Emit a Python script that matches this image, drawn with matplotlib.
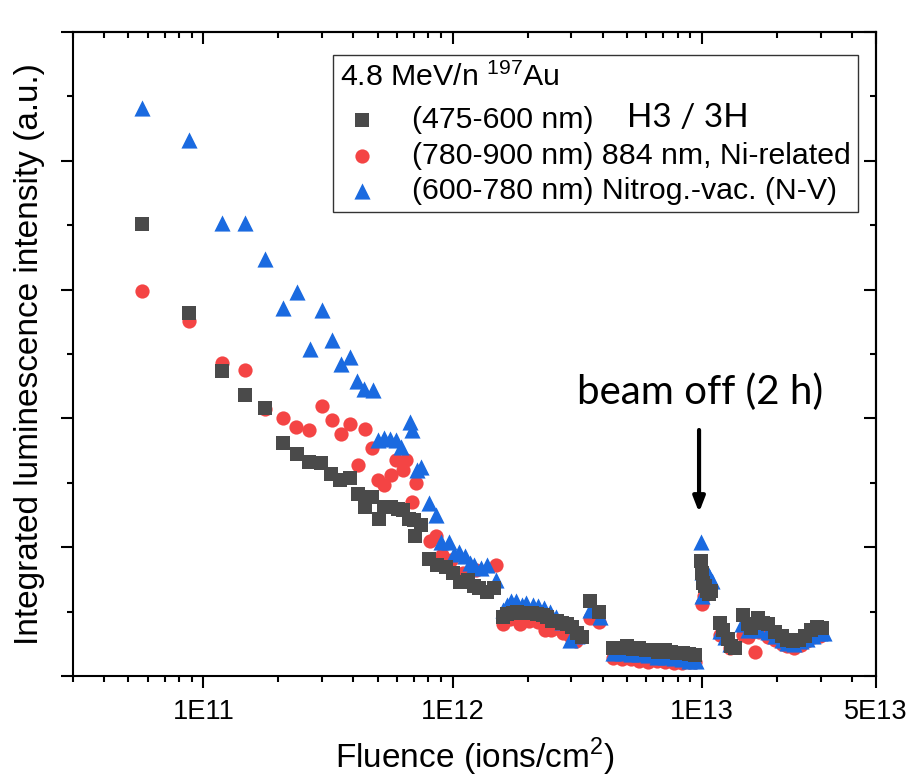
import matplotlib
matplotlib.use("Agg")
import matplotlib.pyplot as plt
from matplotlib.ticker import FixedLocator, NullFormatter

plt.rcParams['font.family'] = ['Liberation Sans', 'DejaVu Sans']
plt.rcParams['mathtext.fontset'] = 'custom'
plt.rcParams['mathtext.rm'] = 'Liberation Sans'

# ---------------- data ----------------
sq_x = [5.7e10, 8.8e10, 1.19e11, 1.47e11, 1.77e11, 2.08e11, 2.37e11, 2.66e11, 2.97e11, 3.25e11,
        3.55e11, 3.89e11, 4.16e11, 4.47e11, 4.75e11, 5.06e11, 5.33e11, 5.67e11, 6.03e11, 6.3e11,
        6.68e11, 7.02e11, 7.1e11, 7.45e11, 8.08e11, 8.7e11, 9.4e11, 1.0e12, 1.07e12, 1.15e12,
        1.22e12, 1.28e12, 1.38e12, 1.47e12,
        1.59e12, 1.66e12, 1.74e12, 1.82e12, 1.91e12, 2.0e12, 2.09e12, 2.19e12, 2.3e12, 2.4e12,
        2.51e12, 2.63e12, 2.75e12, 2.88e12, 3.02e12, 3.16e12, 3.3e12,
        3.55e12, 3.86e12,
        4.4e12, 4.7e12, 5.0e12, 5.3e12, 5.6e12, 5.95e12, 6.3e12, 6.7e12, 7.1e12, 7.5e12,
        7.95e12, 8.4e12, 8.9e12, 9.4e12,
        9.95e12, 1.0e13, 1.01e13, 1.03e13, 1.05e13, 1.07e13, 1.09e13,
        1.18e13, 1.22e13, 1.27e13, 1.31e13, 1.36e13, 1.47e13, 1.53e13, 1.58e13, 1.68e13, 1.76e13,
        1.85e13, 1.96e13, 2.09e13, 2.2e13, 2.33e13, 2.46e13, 2.6e13, 2.75e13, 2.9e13, 3.05e13]
sq_y = [3.51, 2.82, 2.37, 2.18, 2.08, 1.81, 1.72, 1.66, 1.65, 1.57,
        1.52, 1.535, 1.41, 1.31, 1.39, 1.22, 1.31, 1.31, 1.30, 1.29,
        1.22, 1.21, 1.09, 1.17, 0.91, 0.86, 0.85, 0.80, 0.73, 0.745,
        0.70, 0.68, 0.655, 0.68,
        0.46, 0.48, 0.49, 0.50, 0.49, 0.49, 0.49, 0.48, 0.47, 0.46,
        0.43, 0.43, 0.41, 0.40, 0.38, 0.33, 0.30,
        0.58, 0.50,
        0.22, 0.22, 0.23, 0.21, 0.22, 0.20, 0.20, 0.19, 0.20, 0.19,
        0.18, 0.18, 0.17, 0.16,
        0.89, 0.80, 0.72, 0.70, 0.66, 0.64, 0.66,
        0.41, 0.36, 0.29, 0.23, 0.22, 0.47, 0.40, 0.37, 0.45, 0.41,
        0.40, 0.34, 0.31, 0.28, 0.27, 0.28, 0.31, 0.36, 0.38, 0.37]

ci_x = [5.7e10, 8.8e10, 1.19e11, 1.47e11, 1.77e11, 2.08e11, 2.36e11, 2.66e11, 2.99e11, 3.28e11,
        3.57e11, 3.88e11, 4.16e11, 4.47e11, 4.74e11, 5.01e11, 5.33e11, 5.67e11, 5.93e11, 6.3e11,
        6.5e11, 6.88e11, 7.14e11, 8.1e11, 8.6e11, 9.1e11, 9.9e11, 1.1e12, 1.24e12, 1.5e12,
        1.59e12, 1.7e12, 1.86e12, 2.03e12, 2.2e12, 2.35e12, 2.49e12, 2.63e12, 2.77e12, 2.95e12,
        3.14e12,
        3.55e12, 3.86e12,
        4.4e12, 4.8e12, 5.2e12, 5.6e12, 6.1e12, 6.6e12, 7.1e12, 7.7e12, 8.3e12, 8.9e12, 9.4e12,
        1.0e13, 1.02e13, 1.05e13, 1.08e13,
        1.18e13, 1.24e13, 1.3e13, 1.47e13, 1.53e13, 1.63e13, 1.7e13, 1.85e13, 1.96e13, 2.09e13,
        2.2e13, 2.35e13, 2.5e13, 2.65e13, 2.8e13, 2.98e13]
ci_y = [2.99, 2.76, 2.43, 2.376, 2.07, 2.005, 1.93, 1.91, 2.10, 1.99,
        1.88, 1.96, 1.64, 1.92, 1.77, 1.52, 1.48, 1.56, 1.68, 1.60,
        1.68, 1.35, 1.50, 1.05, 1.09, 0.94, 0.90, 0.80, 0.82, 0.86,
        0.40, 0.44, 0.40, 0.43, 0.42, 0.36, 0.36, 0.37, 0.33, 0.31,
        0.27,
        0.45, 0.42,
        0.14, 0.13, 0.13, 0.12, 0.11, 0.12, 0.11, 0.10, 0.10, 0.11, 0.11,
        0.56, 0.62, 0.66, 0.70,
        0.32, 0.30, 0.22, 0.32, 0.30, 0.19, 0.34, 0.30, 0.28, 0.25,
        0.23, 0.22, 0.24, 0.27, 0.30, 0.31]

tr_x = [5.67e10, 8.78e10, 1.185e11, 1.47e11, 1.77e11, 2.08e11, 2.38e11, 2.67e11, 2.98e11, 3.28e11,
        3.58e11, 3.89e11, 4.14e11, 4.43e11, 4.79e11, 5.01e11, 5.32e11, 5.6e11, 5.93e11, 6.2e11,
        6.72e11, 6.88e11, 7.2e11, 7.44e11, 8.08e11, 8.6e11, 9.0e11, 9.7e11, 1.01e12, 1.06e12,
        1.125e12, 1.18e12, 1.22e12, 1.3e12, 1.38e12, 1.5e12,
        1.59e12, 1.65e12, 1.72e12, 1.8e12, 1.9e12, 1.98e12, 2.1e12, 2.2e12, 2.32e12, 2.45e12,
        2.6e12, 2.75e12, 2.95e12, 3.15e12,
        3.55e12, 3.9e12,
        4.4e12, 4.8e12, 5.2e12, 5.6e12, 6.1e12, 6.6e12, 7.1e12, 7.7e12, 8.3e12, 8.9e12, 9.5e12,
        9.95e12, 1.0e13, 1.0e13, 1.04e13, 1.07e13, 1.1e13,
        1.18e13, 1.24e13, 1.3e13, 1.45e13, 1.53e13, 1.6e13, 1.7e13, 1.85e13, 1.96e13, 2.09e13,
        2.2e13, 2.35e13, 2.5e13, 2.65e13, 2.8e13, 2.98e13, 3.1e13]
tr_y = [4.41, 4.16, 3.52, 3.52, 3.235, 2.86, 2.98, 2.54, 2.84, 2.61,
        2.42, 2.48, 2.29, 2.226, 2.22, 1.83, 1.85, 1.84, 1.83, 1.78,
        1.97, 1.91, 1.60, 1.625, 1.34, 1.25, 1.04, 1.04, 0.95, 0.96,
        0.93, 0.88, 0.86, 0.84, 0.86, 0.745,
        0.51, 0.55, 0.58, 0.58, 0.55, 0.565, 0.55, 0.54, 0.53, 0.50,
        0.46, 0.42, 0.28, 0.31,
        0.51, 0.455,
        0.18, 0.18, 0.17, 0.17, 0.16, 0.15, 0.15, 0.14, 0.13, 0.12, 0.12,
        1.04, 0.81, 0.62, 0.82, 0.78, 0.74,
        0.35, 0.30, 0.25, 0.40, 0.36, 0.38, 0.36, 0.34, 0.31, 0.28,
        0.26, 0.25, 0.27, 0.29, 0.31, 0.33, 0.33]

labels = ["(475-600 nm)",
          "(780-900 nm) 884 nm, Ni-related",
          "(600-780 nm) Nitrog.-vac. (N-V)"]
legend_title = "4.8 MeV/n $^{\\mathrm{197}}$Au"
xtick_vals = [1e11, 1e12, 1e13, 5e13]
xtick_labels = ["1E11", "1E12", "1E13", "5E13"]

c_sq = "#4a4a4a"
c_ci = "#f44444"
c_tr = "#1a6ae0"

# ---------------- figure ----------------
fig = plt.figure(figsize=(9.10, 7.82), dpi=100)
ax = fig.add_axes([73 / 910, 1 - 676 / 782, (876 - 73) / 910, (676 - 32) / 782])

h_ci = ax.scatter(ci_x, ci_y, s=105, marker='o', color=c_ci, linewidths=0, zorder=3)
h_tr = ax.scatter(tr_x, tr_y, s=135, marker='^', color=c_tr, linewidths=0, zorder=4)
h_sq = ax.scatter(sq_x, sq_y, s=90, marker='s', color=c_sq, linewidths=0, zorder=5)

ax.set_xscale('log')
ax.set_xlim(3e10, 5e13)
ax.set_ylim(0, 5)

minor_x = []
for dec in [1e10, 1e11, 1e12, 1e13]:
    for m in range(2, 10):
        v = m * dec
        if 3e10 <= v <= 5e13 and v not in xtick_vals:
            minor_x.append(v)

ax.xaxis.set_major_locator(FixedLocator(xtick_vals))
ax.set_xticklabels(xtick_labels)
ax.xaxis.set_minor_locator(FixedLocator(minor_x))
ax.xaxis.set_minor_formatter(NullFormatter())
ax.yaxis.set_major_locator(FixedLocator([0, 1, 2, 3, 4, 5]))
ax.yaxis.set_minor_locator(FixedLocator([0.5, 1.5, 2.5, 3.5, 4.5]))
ax.set_yticklabels([])

lw = 1.5
for sp in ax.spines.values():
    sp.set_linewidth(lw)
ax.tick_params(which='major', direction='out', length=8.5, width=lw, labelsize=19.5, pad=8)
ax.tick_params(which='minor', direction='out', length=4.5, width=lw)

secx = ax.secondary_xaxis('top')
secx.xaxis.set_major_locator(FixedLocator(xtick_vals))
secx.xaxis.set_minor_locator(FixedLocator(minor_x))
secx.xaxis.set_major_formatter(NullFormatter())
secx.xaxis.set_minor_formatter(NullFormatter())
secx.tick_params(which='major', direction='in', length=8.5, width=lw)
secx.tick_params(which='minor', direction='in', length=4.5, width=lw)
secx.spines['top'].set_linewidth(lw)

secy = ax.secondary_yaxis('right')
secy.yaxis.set_major_locator(FixedLocator([0, 1, 2, 3, 4, 5]))
secy.yaxis.set_minor_locator(FixedLocator([0.5, 1.5, 2.5, 3.5, 4.5]))
secy.yaxis.set_major_formatter(NullFormatter())
secy.tick_params(which='major', direction='in', length=8.5, width=lw)
secy.tick_params(which='minor', direction='in', length=4.5, width=lw)
secy.spines['right'].set_linewidth(lw)

ax.set_xlabel("Fluence (ions/cm$^{\\mathrm{2}}$)", fontsize=24, labelpad=8)
ax.set_ylabel("Integrated luminescence intensity (a.u.)", fontsize=24, labelpad=4)

leg = ax.legend([h_sq, h_ci, h_tr], labels, title=legend_title,
                loc='upper left', bbox_to_anchor=((333 - 73) / 803, (676 - 55) / 644),
                borderaxespad=0, fontsize=21.8, title_fontsize=21.8, alignment='left',
                frameon=True, fancybox=False, edgecolor='#333333', framealpha=1,
                handletextpad=0.9, labelspacing=0.245, borderpad=0.22, handlelength=1.5,
                scatterpoints=1)
leg.get_frame().set_linewidth(1.0)
leg.set_zorder(10)
# extra gap between the legend title and the entries
leg._legend_box.sep = 10.5

ax.text((627 - 73) / 803, (676 - 127) / 644, "H3 / 3H", transform=ax.transAxes,
        fontsize=24, family=['Lato', 'DejaVu Sans'], va='baseline', ha='left', zorder=11)

ax.annotate("", xy=(9.75e12, 1.27), xytext=(9.75e12, 1.91),
            arrowprops=dict(arrowstyle='-|>,head_width=0.35,head_length=0.9',
                            color='black', lw=3, shrinkA=0, shrinkB=0))
ax.text(9.8e12, 2.2, "beam off (2 h)", fontsize=29, family=['Lato', 'DejaVu Sans'],
        ha='center', va='center')

fig.savefig("out.png", dpi=100)
